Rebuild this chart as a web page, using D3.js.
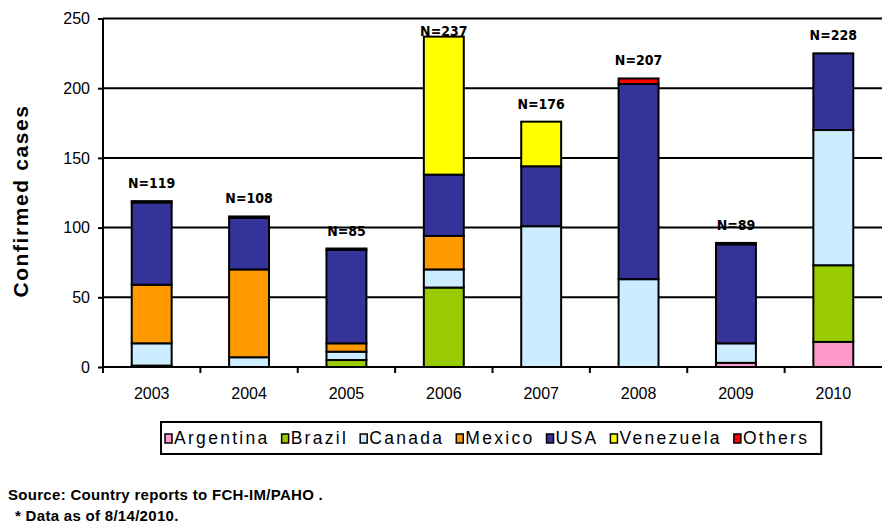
<!DOCTYPE html>
<html><head><meta charset="utf-8">
<script src="https://cdn.jsdelivr.net/npm/d3@7"></script>
<style>body{margin:0;background:#fff}svg{display:block}</style>
</head><body><svg id="c" width="882" height="525"></svg>
<script>
const years = ["2003","2004","2005","2006","2007","2008","2009","2010"];
const seriesNames = ["Argentina","Brazil","Canada","Mexico","USA","Venezuela","Others"];
const argentina = [1,0,0,0,0,0,3,18];
const brazil    = [0,0,5,57,0,0,0,55];
const canada    = [16,7,6,13,101,63,14,97];
const mexico    = [42,63,6,24,0,0,0,0];
const usa       = [59,37,67,44,43,140,71,55];
const venezuela = [0,0,0,99,32,0,0,0];
const others    = [1,1,1,0,0,4,1,0];
const nLabels   = ["N=119","N=108","N=85","N=237","N=176","N=207","N=89","N=228"];
const yTicks    = [0,50,100,150,200,250];
const colors    = ["#FF99CC","#99CC00","#CCECFF","#FF9900","#333399","#FFFF00","#FF0000"];

const seriesVals = [argentina,brazil,canada,mexico,usa,venezuela,others];
const rows = years.map((y,i)=>{const o={year:y}; seriesNames.forEach((s,k)=>o[s]=seriesVals[k][i]); return o;});
const stack = d3.stack().keys(seriesNames)(rows);

const svg = d3.select("#c");
const x = d3.scaleBand().domain(years).range([103,882]).paddingInner(0.59).paddingOuter(0.295);
const y = d3.scaleLinear().domain([0,250]).range([367,18.5]);

// gridlines
svg.append("g").selectAll("line").data(yTicks.filter(t=>t>0)).join("line")
  .attr("x1",103).attr("x2",882).attr("y1",d=>y(d)).attr("y2",d=>y(d))
  .attr("stroke","#000").attr("stroke-width",2);

// bars
const color = d3.scaleOrdinal().domain(seriesNames).range(colors);
svg.append("g").selectAll("g").data(stack).join("g").attr("fill",d=>color(d.key))
  .selectAll("rect").data(d=>d.filter(s=>s[1]-s[0]>0)).join("rect")
  .attr("x",d=>x(d.data.year)).attr("width",x.bandwidth())
  .attr("y",d=>y(d[1])).attr("height",d=>y(d[0])-y(d[1]))
  .attr("stroke","#000").attr("stroke-width",2);

// y axis
const ya = svg.append("g").attr("transform","translate(103,0)")
  .call(d3.axisLeft(y).tickValues(yTicks).tickSize(5).tickPadding(8));
ya.select(".domain").attr("stroke-width",2).attr("d","M0,"+y(250)+"V"+y(0));
ya.selectAll(".tick line").attr("stroke-width",2);
ya.selectAll("text").attr("font-family","Liberation Sans, Arial, sans-serif").attr("font-size",16).attr("fill","#000");

// x axis
const xa = svg.append("g").attr("transform","translate(0,"+y(0)+")")
  .call(d3.axisBottom(x).tickSize(0).tickPadding(21));
xa.select(".domain").attr("stroke-width",2).attr("d","M103,0H882");
xa.selectAll("text").attr("font-family","Liberation Sans, Arial, sans-serif").attr("font-size",16).attr("fill","#000");
const bounds = d3.range(0,years.length).map(i=>x.range()[0]+i*x.step());
svg.append("g").selectAll("line").data(bounds).join("line")
  .attr("x1",d=>d).attr("x2",d=>d).attr("y1",y(0)).attr("y2",y(0)+6)
  .attr("stroke","#000").attr("stroke-width",2);

// N labels
svg.append("g").selectAll("text").data(years).join("text")
  .attr("x",d=>x(d)+x.bandwidth()/2)
  .attr("y",(d,i)=>Math.max(y(d3.sum(seriesVals,s=>s[i]))-13, 36))
  .attr("text-anchor","middle").attr("font-family","DejaVu Sans Condensed, DejaVu Sans, sans-serif")
  .attr("font-weight","bold").attr("font-size",14).text((d,i)=>nLabels[i]);

// y title
svg.append("text").attr("transform","translate(28,201) rotate(-90)").attr("text-anchor","middle")
  .attr("font-family","Liberation Sans, Arial, sans-serif").attr("font-weight","bold").attr("font-size",21)
  .attr("letter-spacing",1.6).text("Confirmed cases");

// legend
const lg = svg.append("g");
const lbox = lg.append("rect").attr("x",161).attr("y",422).attr("height",32).attr("fill","#fff").attr("stroke","#000").attr("stroke-width",2);
let lx = 165;
seriesNames.forEach((s,k)=>{
  lg.append("rect").attr("x",lx).attr("y",434).attr("width",7).attr("height",9).attr("fill",colors[k]).attr("stroke","#000").attr("stroke-width",1.5);
  const t = lg.append("text").attr("x",lx+9).attr("y",444).attr("font-family","Liberation Sans, Arial, sans-serif")
    .attr("font-size",17.5).attr("letter-spacing",2.3).text(s);
  lx += 9 + t.node().getComputedTextLength() + 12;
});
lbox.attr("width",lx-161);

// source notes
svg.append("text").attr("x",8).attr("y",500).attr("font-family","Liberation Sans, Arial, sans-serif")
  .attr("font-weight","bold").attr("font-size",15).attr("letter-spacing",0.3).text("Source: Country reports to FCH-IM/PAHO .");
svg.append("text").attr("x",15).attr("y",521).attr("font-family","Liberation Sans, Arial, sans-serif")
  .attr("font-weight","bold").attr("font-size",15).attr("letter-spacing",0.3).text("* Data as of 8/14/2010.");
</script></body></html>
